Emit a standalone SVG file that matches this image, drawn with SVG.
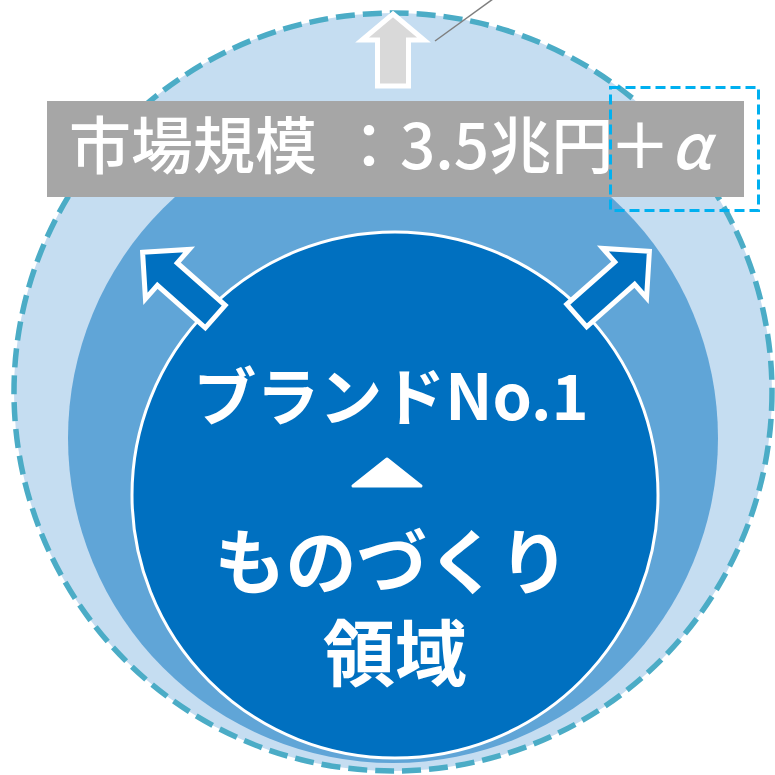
<svg xmlns="http://www.w3.org/2000/svg" width="775" height="775" viewBox="0 0 775 775">
  <style>
    .jp { font-family: "Noto Sans CJK JP", "Noto Sans", sans-serif; fill: #ffffff; }
    .arrow { stroke: #ffffff; stroke-width: 5; stroke-linejoin: miter; stroke-miterlimit: 10; }
  </style>
  <g id="outer-circle">
    <circle cx="393" cy="392" r="379" fill="#c5ddf1" stroke="#4bacc6" stroke-width="5.5" stroke-dasharray="19 8"/>
  </g>
  <g id="middle-circle">
    <circle cx="393" cy="438" r="325" fill="#60a5d7"/>
  </g>
  <g id="inner-circle">
    <circle cx="395" cy="495" r="263" fill="#0070c0" stroke="#ffffff" stroke-width="3"/>
  </g>
  <g id="connectors">
    <line x1="435" y1="41" x2="493" y2="-1" stroke="#7f7f7f" stroke-width="1.5"/>
    <path class="arrow" fill="#d9d9d9" d="M393,14 L424,40 L408.5,40 L408.5,86 L377.5,86 L377.5,40 L362,40 Z"/>
    <path class="arrow" fill="#0070c0" transform="translate(142.6,252.3) rotate(-48.5)" d="M0,0 L33,33 L15,33 L15,97 L-15,97 L-15,33 L-33,33 Z"/>
    <path class="arrow" fill="#0070c0" transform="translate(649.4,251.3) rotate(48.5)" d="M0,0 L33,33 L15,33 L15,97 L-15,97 L-15,33 L-33,33 Z"/>
  </g>
  <g id="market-label">
    <rect x="47" y="101" width="697" height="96" fill="#a6a6a6"/>
    <text class="jp" y="169" font-size="62" font-weight="500"><tspan x="69">市場規模</tspan><tspan x="338">：</tspan><tspan x="400">3.5兆円</tspan><tspan x="609">＋</tspan><tspan x="671" font-style="italic">α</tspan></text>
    <rect x="610.5" y="87.5" width="148" height="123" fill="none" stroke="#00b0f0" stroke-width="3" stroke-dasharray="10 5"/>
  </g>
  <g id="core-label">
    <text class="jp" x="391" y="420" font-size="63" font-weight="700" text-anchor="middle">ブランドNo.1</text>
    <polygon points="387,459 421,486 353,486" fill="#ffffff" stroke="#ffffff" stroke-width="3" stroke-linejoin="round"/>
    <text class="jp" x="392" y="588" font-size="71" font-weight="700" text-anchor="middle">ものづくり</text>
    <text class="jp" x="395" y="680" font-size="72" font-weight="700" text-anchor="middle">領域</text>
  </g>
</svg>
